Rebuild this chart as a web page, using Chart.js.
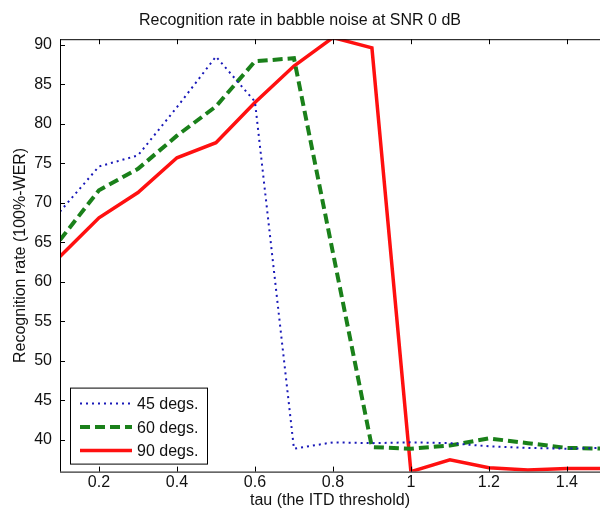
<!DOCTYPE html>
<html>
<head>
<meta charset="utf-8">
<title>Recognition rate in babble noise at SNR 0 dB</title>
<script src="https://cdn.jsdelivr.net/npm/chart.js@4.4.1/dist/chart.umd.min.js"></script>
<style>
  body { margin: 0; background: #fff; }
  #wrap { width: 600px; height: 518px; }
</style>
</head>
<body>
<div id="wrap"><canvas id="rate_chart"></canvas></div>
<script>
// tau (the ITD threshold)
var tau = [0.1, 0.2, 0.3, 0.4, 0.5, 0.6, 0.7, 0.8, 0.9, 1.0, 1.1, 1.2, 1.3, 1.4, 1.5];

// recognition rate (100%-WER), one list per angle
var rate45 = [68.9, 74.6, 76.0, 82.1, 88.5, 82.8, 38.9, 39.7, 39.6, 39.7, 39.6, 39.2, 39.0, 38.9, 39.0];
var rate60 = [65.3, 71.6, 74.3, 78.5, 82.2, 87.9, 88.3, 63.7, 39.1, 38.9, 39.3, 40.2, 39.6, 39.0, 38.9];
var rate90 = [63.2, 68.1, 71.3, 75.7, 77.6, 82.7, 87.3, 90.9, 89.6, 36.0, 37.5, 36.5, 36.2, 36.4, 36.4];

var seriesNames = ['45 degs.', '60 degs.', '90 degs.'];
var xTicks = [0.2, 0.4, 0.6, 0.8, 1, 1.2, 1.4];
var yTicks = [40, 45, 50, 55, 60, 65, 70, 75, 80, 85, 90];

function toPoints(vals) {
    return tau.map(function (t, i) { return { x: t, y: vals[i] }; });
}

// matlab style: ticks pointing into the axes, plus the box lines
var insideTicks = {
    id: 'insideTicks',
    afterDatasetsDraw: function (chart) {
        var ctx = chart.ctx, a = chart.chartArea;
        var xs = chart.scales.x, ys = chart.scales.y;
        ctx.save();
        ctx.strokeStyle = '#000';
        ctx.lineWidth = 1;
        ctx.beginPath();
        ctx.moveTo(a.left, a.top + 0.5); ctx.lineTo(a.right, a.top + 0.5);
        ctx.moveTo(a.left + 0.5, a.top); ctx.lineTo(a.left + 0.5, a.bottom);
        ctx.moveTo(a.left, a.bottom + 0.5); ctx.lineTo(a.right, a.bottom + 0.5);
        xs.ticks.forEach(function (t) {
            var px = Math.round(xs.getPixelForValue(t.value)) + 0.5;
            ctx.moveTo(px, a.bottom); ctx.lineTo(px, a.bottom - 5);
            ctx.moveTo(px, a.top); ctx.lineTo(px, a.top + 5);
        });
        ys.ticks.forEach(function (t) {
            var py = Math.round(ys.getPixelForValue(t.value)) + 0.5;
            ctx.moveTo(a.left, py); ctx.lineTo(a.left + 5, py);
        });
        ctx.stroke();
        ctx.restore();
    }
};

// legend box in the lower left corner of the axes
var boxLegend = {
    id: 'boxLegend',
    afterDraw: function (chart) {
        var ctx = chart.ctx, a = chart.chartArea;
        var x0 = a.left + 10, y0 = a.bottom - 84, w = 137, h = 76;
        ctx.save();
        ctx.fillStyle = '#fff';
        ctx.fillRect(x0, y0, w, h);
        ctx.strokeStyle = '#000';
        ctx.lineWidth = 1;
        ctx.strokeRect(x0 + 0.5, y0 + 0.5, w, h);
        ctx.font = '16px "Liberation Sans", Arial, sans-serif';
        ctx.textBaseline = 'middle';
        chart.data.datasets.forEach(function (ds, i) {
            var cy = y0 + 16 + i * 23.5;
            ctx.beginPath();
            ctx.strokeStyle = ds.borderColor;
            ctx.lineWidth = ds.borderWidth;
            ctx.setLineDash(ds.borderDash || []);
            ctx.moveTo(x0 + 10, cy); ctx.lineTo(x0 + 62, cy);
            ctx.stroke();
            ctx.setLineDash([]);
            ctx.fillStyle = '#111';
            ctx.fillText(ds.label, x0 + 67, cy + 1);
        });
        ctx.restore();
    }
};

Chart.defaults.font.family = '"Liberation Sans", Arial, sans-serif';
Chart.defaults.font.size = 16;
Chart.defaults.color = '#111';

var rateChart = {
    type: 'line',
    data: {
        datasets: [{
            label: seriesNames[0],
            data: toPoints(rate45),
            borderColor: '#1818b8',
            borderWidth: 2,
            borderDash: [2, 4]
        }, {
            label: seriesNames[1],
            data: toPoints(rate60),
            borderColor: '#1a801a',
            borderWidth: 4,
            borderDash: [10, 5]
        }, {
            label: seriesNames[2],
            data: toPoints(rate90),
            borderColor: '#ff1010',
            borderWidth: 3.5
        }]
    },
    options: {
        responsive: true,
        maintainAspectRatio: false,
        animation: false,
        layout: { padding: 0 },
        elements: {
            point: { radius: 0, hoverRadius: 0 },
            line: { tension: 0, fill: false, borderCapStyle: 'butt' }
        },
        plugins: {
            legend: { display: false },
            tooltip: { enabled: false },
            title: {
                display: true,
                text: 'Recognition rate in babble noise at SNR 0 dB',
                font: { size: 16, weight: 'normal' },
                padding: { top: 11, bottom: 9 }
            }
        },
        scales: {
            x: {
                type: 'linear',
                min: 0.1,
                max: 1.485,
                afterBuildTicks: function (s) { s.ticks = xTicks.map(function (v) { return { value: v }; }); },
                grid: { display: false, drawTicks: false },
                border: { display: false },
                ticks: { padding: 1, autoSkip: false, maxRotation: 0, callback: function (v) { return String(v); } },
                title: { display: true, text: 'tau (the ITD threshold)', padding: { top: -2, bottom: 8 } }
            },
            y: {
                type: 'linear',
                min: 36,
                max: 90.7,
                afterBuildTicks: function (s) { s.ticks = yTicks.map(function (v) { return { value: v }; }); },
                afterFit: function (s) { s.width = 60; },
                grid: { display: false, drawTicks: false },
                border: { display: false },
                ticks: { padding: 8, autoSkip: false, callback: function (v) { return String(v); } },
                title: { display: true, text: 'Recognition rate (100%-WER)', padding: { top: 11, bottom: 0 } }
            }
        }
    },
    plugins: [insideTicks, boxLegend]
};

window.onload = function () {
    var ctx = document.getElementById('rate_chart').getContext('2d');
    window.rate_history = new Chart(ctx, rateChart);
};
</script>
</body>
</html>
